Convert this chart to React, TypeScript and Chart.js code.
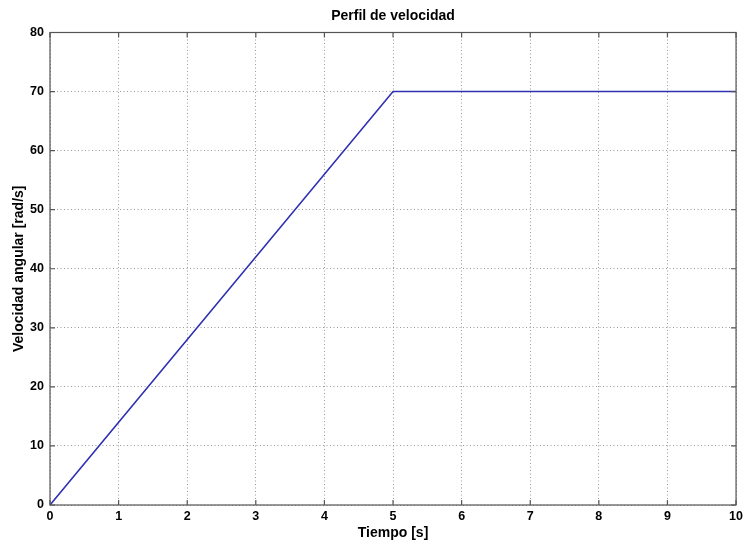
import React, { useEffect, useRef } from "react";
import { Chart, registerables } from "chart.js";

Chart.register(...registerables);

const timeValues = [0, 5, 10];
const speedValues = [0, 70, 70];
const xTicks = [0, 1, 2, 3, 4, 5, 6, 7, 8, 9, 10];
const yTicks = [0, 10, 20, 30, 40, 50, 60, 70, 80];
const titleText = "Perfil de velocidad";
const xTitle = "Tiempo [s]";
const yTitle = "Velocidad angular [rad/s]";

const FONT = "'Liberation Sans', Arial, Helvetica, sans-serif";

const boxPlugin = {
  id: "boxPlugin",
  afterDraw(chart: any) {
    const { ctx, chartArea } = chart;
    const xs = chart.scales.x;
    const ys = chart.scales.y;
    ctx.save();
    ctx.strokeStyle = "#555555";
    ctx.lineWidth = 1.2;
    ctx.strokeRect(chartArea.left, chartArea.top, chartArea.right - chartArea.left, chartArea.bottom - chartArea.top);
    const tl = 5;
    ctx.beginPath();
    xTicks.forEach((v) => {
      const px = xs.getPixelForValue(v);
      ctx.moveTo(px, chartArea.bottom);
      ctx.lineTo(px, chartArea.bottom - tl);
      ctx.moveTo(px, chartArea.top);
      ctx.lineTo(px, chartArea.top + tl);
    });
    yTicks.forEach((v) => {
      const py = ys.getPixelForValue(v);
      ctx.moveTo(chartArea.left, py);
      ctx.lineTo(chartArea.left + tl, py);
      ctx.moveTo(chartArea.right, py);
      ctx.lineTo(chartArea.right - tl, py);
    });
    ctx.stroke();
    ctx.fillStyle = "#000";
    ctx.font = `bold 14px ${FONT}`;
    ctx.textAlign = "center";
    ctx.textBaseline = "middle";
    ctx.fillText(titleText, (chartArea.left + chartArea.right) / 2, 16);
    ctx.restore();
  },
};

export default function App() {
  const ref = useRef<HTMLCanvasElement | null>(null);
  useEffect(() => {
    if (!ref.current) return;
    const data = timeValues.map((t, i) => ({ x: t, y: speedValues[i] }));
    const chart = new Chart(ref.current, {
      type: "scatter",
      data: {
        datasets: [
          {
            data,
            showLine: true,
            borderColor: "#3030b4",
            borderWidth: 1.6,
            pointRadius: 0,
            fill: false,
          },
        ],
      },
      options: {
        animation: false,
        responsive: false,
        maintainAspectRatio: false,
        layout: { padding: { top: 32.5, right: 9, left: 0, bottom: 0 } },
        plugins: { legend: { display: false }, title: { display: false }, tooltip: { enabled: false } },
        scales: {
          x: {
            type: "linear",
            min: 0,
            max: 10,
            afterBuildTicks: (s: any) => {
              s.ticks = xTicks.map((v) => ({ value: v }));
            },
            afterFit: (s: any) => {
              s.height = 37;
            },
            ticks: {
              color: "#000",
              font: { family: FONT, size: 12.5, weight: "bold" },
              padding: 4,
              maxRotation: 0,
              autoSkip: false,
            },
            grid: { color: "#9a9a9a", lineWidth: 1, drawTicks: false },
            border: { display: false, dash: [1, 2.5] },
            title: {
              display: true,
              text: xTitle,
              color: "#000",
              font: { family: FONT, size: 14, weight: "bold" },
              padding: { top: 0, bottom: 0.5 },
            },
          },
          y: {
            type: "linear",
            min: 0,
            max: 80,
            afterBuildTicks: (s: any) => {
              s.ticks = yTicks.map((v) => ({ value: v }));
            },
            afterFit: (s: any) => {
              s.width = 50;
            },
            ticks: {
              color: "#000",
              font: { family: FONT, size: 12.5, weight: "bold" },
              padding: 6,
              autoSkip: false,
            },
            grid: { color: "#9a9a9a", lineWidth: 1, drawTicks: false },
            border: { display: false, dash: [1, 2.5] },
            title: {
              display: true,
              text: yTitle,
              color: "#000",
              font: { family: FONT, size: 14, weight: "bold" },
              padding: { top: 10.5, bottom: 0 },
            },
          },
        },
      },
      plugins: [boxPlugin],
    });
    return () => chart.destroy();
  }, []);
  return (
    <div style={{ position: "fixed", left: 0, top: 0, width: 747, height: 542, background: "#fff" }}>
      <canvas ref={ref} width={747} height={542} style={{ display: "block", width: 747, height: 542 }} />
    </div>
  );
}
